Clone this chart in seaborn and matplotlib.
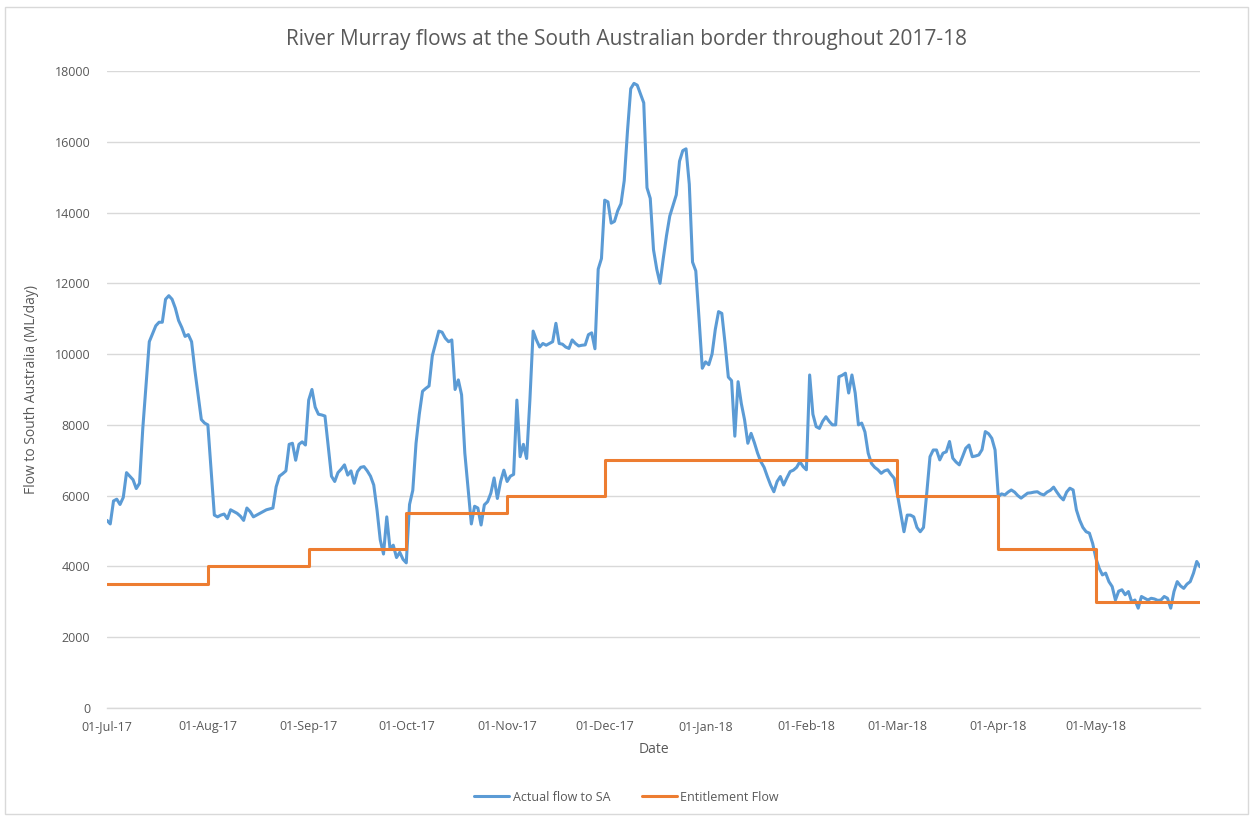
import matplotlib
matplotlib.use("Agg")
import matplotlib.pyplot as plt
import matplotlib.dates as mdates
from matplotlib.patches import Rectangle
import seaborn as sns
import pandas as pd

# Daily flow readings, as days after 1 July 2017 and ML/day
flow_day = [
    0, 1, 2, 3, 4, 5, 6, 8, 9, 10, 11, 13, 15, 16, 17, 18, 19, 20, 21, 22,
    23, 24, 25, 26, 27, 29, 30, 31, 33, 34, 35, 36, 37, 38, 39, 40, 41, 42, 43, 44,
    45, 47, 49, 51, 52, 53, 54, 55, 56, 57, 58, 59, 60, 61, 62, 63, 64, 65, 66, 67,
    69, 70, 71, 72, 73, 74, 75, 76, 77, 78, 79, 80, 81, 82, 83, 84, 85, 86, 87, 88,
    89, 90, 91, 92, 93, 94, 95, 96, 97, 98, 99, 100, 101, 102, 103, 104, 105, 106, 107, 108,
    109, 110, 112, 113, 114, 115, 116, 117, 118, 119, 120, 121, 122, 123, 124, 125, 126, 127, 128, 129,
    130, 131, 132, 133, 134, 135, 136, 137, 138, 139, 140, 141, 142, 143, 144, 145, 146, 147, 148, 149,
    150, 151, 152, 153, 154, 155, 156, 157, 158, 159, 160, 161, 162, 163, 164, 165, 166, 167, 168, 169,
    170, 171, 172, 173, 174, 175, 176, 177, 178, 179, 180, 181, 182, 183, 184, 185, 186, 187, 188, 189,
    190, 191, 192, 193, 194, 195, 196, 197, 198, 199, 200, 201, 202, 203, 204, 205, 206, 207, 208, 209,
    210, 211, 212, 213, 214, 215, 216, 217, 218, 219, 220, 221, 222, 223, 224, 225, 226, 227, 228, 229,
    230, 231, 232, 233, 234, 235, 236, 237, 238, 239, 240, 241, 242, 243, 244, 245, 246, 247, 248, 249,
    250, 251, 252, 253, 254, 255, 256, 257, 258, 259, 260, 261, 262, 263, 264, 265, 266, 267, 268, 269,
    270, 271, 272, 273, 274, 275, 276, 277, 278, 279, 280, 281, 282, 283, 284, 285, 286, 287, 288, 289,
    290, 291, 292, 293, 294, 295, 296, 297, 298, 299, 300, 301, 302, 303, 304, 305, 306, 307, 308, 309,
    310, 311, 312, 313, 314, 315, 316, 317, 318, 319, 320, 321, 322, 323, 324, 325, 326, 327, 328, 329,
    330, 331, 332, 333, 334, 335, 336,
]
flow_ml = [
    5300, 5200, 5850, 5900, 5750, 5950, 6650, 6450, 6200, 6350, 7900, 10350, 10800, 10900, 10900, 11550, 11650, 11550, 11300, 10950,
    10750, 10500, 10550, 10350, 9550, 8150, 8050, 8000, 5450, 5400, 5450, 5480, 5350, 5600, 5550, 5500, 5420, 5300, 5650, 5550,
    5400, 5500, 5600, 5650, 6250, 6550, 6620, 6700, 7450, 7480, 7000, 7450, 7520, 7430, 8700, 9000, 8500, 8300, 8280, 8250,
    6550, 6400, 6650, 6750, 6870, 6580, 6700, 6350, 6680, 6800, 6820, 6700, 6550, 6300, 5600, 4750, 4350, 5400, 4500, 4600,
    4250, 4400, 4200, 4100, 5750, 6150, 7480, 8300, 8950, 9030, 9100, 9950, 10300, 10650, 10620, 10450, 10350, 10400, 9000, 9270,
    8850, 7200, 5200, 5700, 5650, 5170, 5740, 5830, 6070, 6500, 5920, 6400, 6720, 6400, 6550, 6600, 8700, 7100, 7450, 7050,
    8700, 10650, 10400, 10200, 10300, 10250, 10300, 10350, 10870, 10300, 10280, 10200, 10160, 10400, 10300, 10230, 10250, 10260, 10550, 10600,
    10150, 12400, 12700, 14350, 14300, 13700, 13750, 14050, 14250, 14900, 16300, 17500, 17650, 17600, 17350, 17100, 14700, 14400, 12950, 12400,
    12000, 12700, 13350, 13900, 14200, 14500, 15450, 15750, 15800, 14800, 12600, 12350, 11000, 9600, 9780, 9700, 10000, 10700, 11200, 11150,
    10300, 9350, 9250, 7680, 9220, 8600, 8140, 7480, 7760, 7500, 7200, 6960, 6800, 6540, 6300, 6110, 6400, 6540, 6300, 6500,
    6680, 6720, 6800, 6960, 6820, 6730, 9410, 8300, 7950, 7900, 8100, 8230, 8100, 8000, 8000, 9360, 9400, 9460, 8900, 9410,
    8900, 8000, 8050, 7800, 7200, 6910, 6800, 6730, 6630, 6700, 6730, 6600, 6490, 6020, 5500, 4980, 5450, 5450, 5400, 5100,
    4980, 5100, 6070, 7100, 7290, 7290, 7010, 7200, 7240, 7530, 7060, 6950, 6870, 7100, 7340, 7430, 7100, 7120, 7150, 7300,
    7810, 7750, 7620, 7290, 5970, 6050, 6020, 6100, 6160, 6100, 6000, 5930, 6000, 6070, 6080, 6100, 6110, 6050, 6020, 6100,
    6150, 6240, 6100, 5970, 5880, 6100, 6210, 6160, 5600, 5310, 5100, 4980, 4940, 4650, 4230, 3950, 3760, 3810, 3570, 3430,
    3050, 3300, 3340, 3200, 3290, 3000, 3050, 2820, 3150, 3100, 3050, 3100, 3080, 3040, 3050, 3150, 3100, 2820, 3290, 3570,
    3450, 3380, 3500, 3570, 3810, 4140, 3990,
]

# Entitlement flow for each month (ML/day)
entitlement_month = ["2017-07-01", "2017-08-01", "2017-09-01", "2017-10-01", "2017-11-01",
                     "2017-12-01", "2018-01-01", "2018-02-01", "2018-03-01", "2018-04-01",
                     "2018-05-01"]
entitlement_ml = [3500, 4000, 4500, 5500, 6000, 7000, 7000, 7000, 6000, 4500, 3000]

# Axis text
month_ticks = ["2017-07-01", "2017-08-01", "2017-09-01", "2017-10-01", "2017-11-01",
               "2017-12-01", "2018-01-01", "2018-02-01", "2018-03-01", "2018-04-01",
               "2018-05-01"]
title = "River Murray flows at the South Australian border throughout 2017-18"
y_label = "Flow to South Australia (ML/day)"
x_label = "Date"
series_names = ["Actual flow to SA", "Entitlement Flow"]

start = pd.Timestamp("2017-07-01")
flow = pd.DataFrame({
    "date": start + pd.to_timedelta(flow_day, unit="D"),
    "flow": flow_ml,
})
end_date = flow["date"].iloc[-1]

ent = pd.DataFrame({"date": pd.to_datetime(entitlement_month), "flow": entitlement_ml})
ent = pd.concat([ent, pd.DataFrame({"date": [end_date], "flow": [entitlement_ml[-1]]})],
                ignore_index=True)

sns.set_theme(style="white")
plt.rcParams["font.family"] = ["Open Sans", "DejaVu Sans"]

text_grey = "#595959"
fig = plt.figure(figsize=(12.53, 8.16), dpi=100)
ax = fig.add_axes([0.0854, 0.1324, 0.8723, 0.7806])

blue = "#5B9BD5"
orange = "#ED7D31"
sns.lineplot(data=flow, x="date", y="flow", ax=ax, color=blue, linewidth=2.2,
             label=series_names[0])
sns.lineplot(data=ent, x="date", y="flow", ax=ax, color=orange, linewidth=2.2,
             drawstyle="steps-post", label=series_names[1])

ax.set_ylim(0, 18000)
ax.set_yticks(range(0, 18001, 2000))
ax.set_xlim(start, end_date)
ax.set_xticks(pd.to_datetime(month_ticks))
ax.xaxis.set_major_formatter(mdates.DateFormatter("%d-%b-%y"))

ax.grid(axis="y", color="#d9d9d9", linewidth=1)
ax.set_axisbelow(True)
for side in ["top", "right", "left"]:
    ax.spines[side].set_visible(False)
ax.spines["bottom"].set_color("#d9d9d9")
ax.spines["bottom"].set_linewidth(1)

ax.tick_params(axis="y", length=0, labelsize=9, labelcolor=text_grey, pad=12)
ax.tick_params(axis="x", length=4, color="#d9d9d9", labelsize=9, labelcolor=text_grey,
               direction="out", pad=5)

ax.set_xlabel(x_label, fontsize=10, color=text_grey, labelpad=6)
ax.set_ylabel(y_label, fontsize=10, color=text_grey, labelpad=11)
fig.text(0.5, 0.951, title, ha="center", va="center", fontsize=15, color=text_grey)

ax.get_legend().remove()
handles, labels = ax.get_legend_handles_labels()
fig.legend(handles, labels, loc="center", bbox_to_anchor=(0.5, 0.023), ncol=2,
           frameon=False, fontsize=9, labelcolor=text_grey, handlelength=2.8,
           handletextpad=0.3, columnspacing=2.5)

# Light outline of the chart area
fig.patches.append(Rectangle((0.004, 0.003), 0.992, 0.988, transform=fig.transFigure,
                             fill=False, edgecolor="#d9d9d9", linewidth=1))

fig.savefig("out.png", dpi=100, facecolor="white")
